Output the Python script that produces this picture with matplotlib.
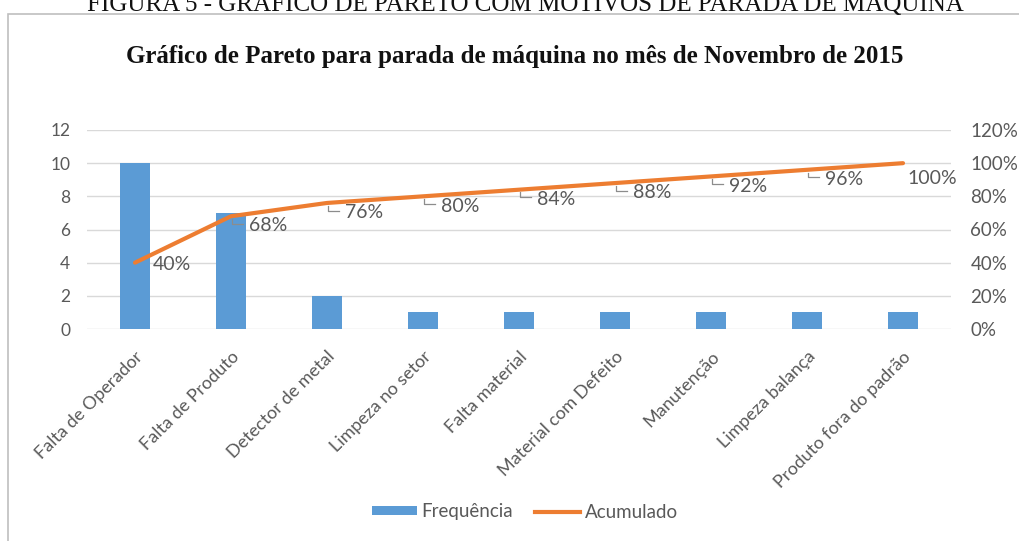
import matplotlib
matplotlib.use("Agg")
import matplotlib.pyplot as plt
from matplotlib.patches import Rectangle, Patch
from matplotlib.lines import Line2D
from matplotlib.ticker import FuncFormatter
from matplotlib.transforms import Affine2D

categories = ["Falta de Operador", "Falta de Produto", "Detector de metal", "Limpeza no setor",
              "Falta material", "Material com Defeito", "Manutenção", "Limpeza balança",
              "Produto fora do padrão"]
frequencia = [10, 7, 2, 1, 1, 1, 1, 1, 1]
acumulado = [40, 68, 76, 80, 84, 88, 92, 96, 100]
left_ticks = [0, 2, 4, 6, 8, 10, 12]
right_ticks = [0, 20, 40, 60, 80, 100, 120]

BLUE = "#5B9BD5"
ORANGE = "#ED7D31"
GRAY = "#595959"
GRID = "#D9D9D9"
FONT = "Lato"

W, H = 1020, 541
fig = plt.figure(figsize=(W / 100, H / 100), dpi=100)

# outer frame of the chart image
fig.patches.append(Rectangle((8 / W, -0.1), 1.2, 1 - 14 / H + 0.1, transform=fig.transFigure,
                             fill=False, edgecolor="#BFBFBF", lw=1.2))
# caption, cut off at the top edge as in the source
fig.text(525 / W, 1 - 11 / H, "FIGURA 5 - GRÁFICO DE PARETO COM MOTIVOS DE PARADA DE MÁQUINA",
         ha="center", va="baseline", fontsize=18, family="Liberation Serif", color="#111111")

fig.text(515 / W, 1 - 57 / H, "Gráfico de Pareto para parada de máquina no mês de Novembro de 2015",
         ha="center", va="center", fontsize=18, fontweight="bold", family="Liberation Serif",
         color="#111111")

ax = fig.add_axes([87 / W, 1 - 329 / H, (951 - 87) / W, (329 - 130) / H])
x = list(range(len(categories)))
ax.bar(x, frequencia, width=0.32, color=BLUE, zorder=2)
ax.set_xlim(-0.5, len(categories) - 0.5)
ax.set_ylim(0, 12)
ax.set_yticks(left_ticks)
ax.grid(axis="y", color=GRID, lw=1, zorder=0)
ax.set_axisbelow(True)
for s in ax.spines.values():
    s.set_visible(False)
ax.tick_params(length=0, colors=GRAY, labelsize=12.5, pad=14)
ax.tick_params(axis="y", pad=12)
ax.set_xticks(x)
ax.set_xticklabels(categories, rotation=45, ha="right", rotation_mode="anchor", family=FONT,
                   fontsize=13, color=GRAY)
for lab in ax.get_yticklabels():
    lab.set_family(FONT)

ax2 = ax.twinx()
ax2.plot(x, acumulado, color=ORANGE, lw=3, solid_capstyle="round", zorder=3)
ax2.set_ylim(0, 120)
ax2.set_yticks(right_ticks)
ax2.yaxis.set_major_formatter(FuncFormatter(lambda v, p: f"{v:.0f}%"))
for s in ax2.spines.values():
    s.set_visible(False)
ax2.tick_params(length=0, colors=GRAY, labelsize=13.5, pad=14)
for lab in ax2.get_yticklabels():
    lab.set_family(FONT)

n = len(acumulado)
for i, v in enumerate(acumulado):
    if i == 0:
        off = (13, -1.5)
    elif i == n - 1:
        off = (3.5, -11)
    else:
        off = (13, -7)
    ax2.annotate(f"{v}%", (i, v), xytext=off, textcoords="offset points",
                 ha="left", va="center", fontsize=14, color=GRAY, family=FONT, zorder=5)
    if 0 < i < n - 1:
        px, py = ax2.transData.transform((i, v))
        ax2.add_line(Line2D([1, 1, 9], [-2, -5.5, -5.5], color="#8C8C8C", lw=0.9,
                            transform=Affine2D().scale(fig.dpi / 72).translate(px, py),
                            zorder=4))

handles = [Patch(facecolor=BLUE, edgecolor="none", label="Frequência"),
           Line2D([0], [0], color=ORANGE, lw=3, label="Acumulado")]
fig.legend(handles=handles, loc="center", bbox_to_anchor=(525 / W, 1 - 512 / H), ncol=2,
           frameon=False, prop={"family": FONT, "size": 13.5}, labelcolor=GRAY,
           handlelength=2.4, handleheight=0.35, columnspacing=1.2, handletextpad=0.25)

fig.savefig("out.png", dpi=100)
